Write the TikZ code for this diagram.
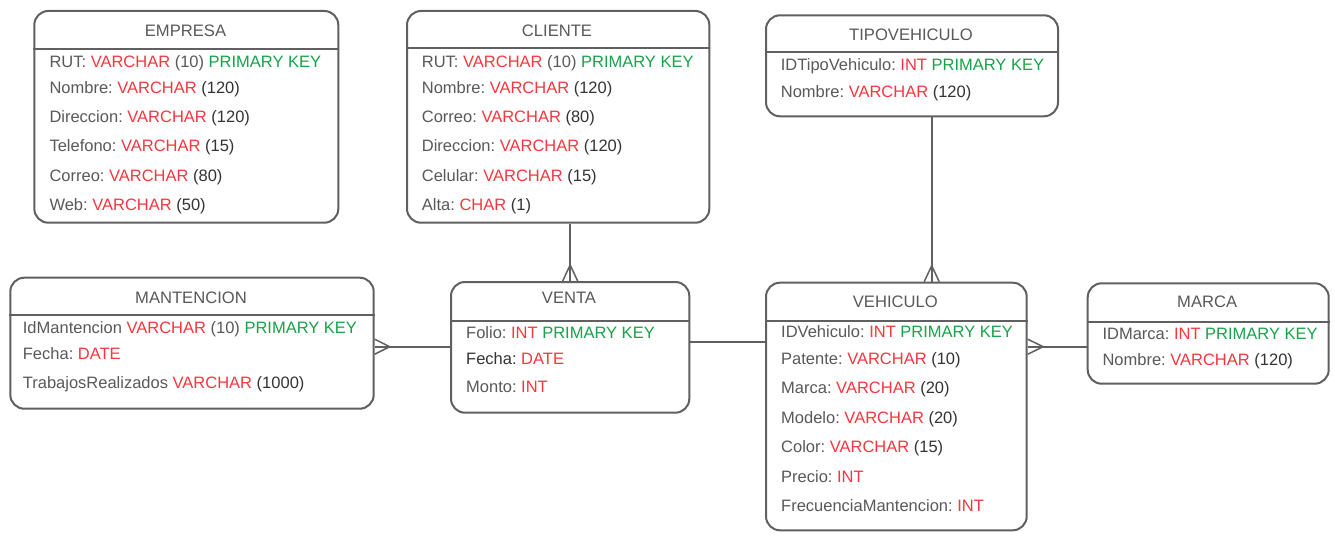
\documentclass[tikz,border=0pt]{standalone}
\usepackage{fontspec}
\setmainfont{Liberation Sans}
\usetikzlibrary{calc}
\frenchspacing
\definecolor{txtgray}{HTML}{595959}
\definecolor{txtdark}{HTML}{333333}
\definecolor{typred}{HTML}{F7363F}
\definecolor{pkgreen}{HTML}{17A349}
\definecolor{linegray}{HTML}{606060}
\newcommand\tyR[1]{\textcolor{typred}{#1}}
\newcommand\pkG[1]{\textcolor{pkgreen}{#1}}
\newcommand\szD[1]{\textcolor{txtdark}{#1}}
\tikzset{
  entity/.style={draw=linegray, line width=2pt, rounded corners=14pt, rectangle, inner sep=0pt, anchor=north west, fill=white},
  hdr/.style={draw=linegray, line width=2pt},
  title/.style={anchor=base, inner sep=0pt, text=txtgray, font=\fontsize{16.6}{19}\selectfont\frenchspacing},
  row/.style={anchor=base west, inner sep=0pt, text=txtgray, font=\fontsize{16.5}{19}\selectfont\frenchspacing},
  conn/.style={draw=linegray, line width=2pt},
  crow/.style={draw=linegray, line width=1.5pt}
}
\begin{document}
\begin{tikzpicture}[x=1pt,y=-1pt]
\useasboundingbox (0,0) rectangle (1335,548);
\fill[white] (0,0) rectangle (1335,548);

% boxes as nodes
\node[entity, minimum width=304, minimum height=211.7] (empresa) at (33.3,10) {};
\node[entity, minimum width=302.3, minimum height=211.7] (cliente) at (406,10) {};
\node[entity, minimum width=292, minimum height=101] (tipo) at (765,14.3) {};
\node[entity, minimum width=363.4, minimum height=131] (mant) at (9.3,276.7) {};
\node[entity, minimum width=238.3, minimum height=130.7] (venta) at (450,281) {};
\node[entity, minimum width=260.7, minimum height=247.6] (vehiculo) at (765,281.7) {};
\node[entity, minimum width=241, minimum height=100.4] (marca) at (1086.7,282.3) {};

% header separators
\draw[hdr] (empresa.west |- 0,49) -- (empresa.east |- 0,49);
\draw[hdr] (cliente.west |- 0,48.5) -- (cliente.east |- 0,48.5);
\draw[hdr] (tipo.west |- 0,52.5) -- (tipo.east |- 0,52.5);
\draw[hdr] (mant.west |- 0,315) -- (mant.east |- 0,315);
\draw[hdr] (venta.west |- 0,320.5) -- (venta.east |- 0,320.5);
\draw[hdr] (vehiculo.west |- 0,320.5) -- (vehiculo.east |- 0,320.5);
\draw[hdr] (marca.west |- 0,321.5) -- (marca.east |- 0,321.5);

% CLIENTE -- VENTA (many at VENTA)
\draw[conn] (venta.north |- cliente.south) -- (venta.north);
\coordinate (cfv) at ($(venta.north)+(0,-16)$);
\draw[crow] ($(venta.north)+(-7.5,0)$) -- (cfv) -- ($(venta.north)+(7.5,0)$);

% VENTA -- MANTENCION (many at MANTENCION)
\draw[conn] (venta.west |- 0,346.7) -- (mant.east |- 0,346.7);
\coordinate (cfm) at ($(mant.east |- 0,346.7)+(15,0)$);
\draw[crow] ($(mant.east |- 0,346.7)+(0,-7.5)$) -- (cfm) -- ($(mant.east |- 0,346.7)+(0,7.5)$);

% VENTA -- VEHICULO
\draw[conn] (venta.east |- 0,342.3) -- (vehiculo.west |- 0,342.3);

% TIPOVEHICULO -- VEHICULO (many at VEHICULO)
\coordinate (tv) at (931.7,0);
\draw[conn] (tipo.south -| tv) -- (vehiculo.north -| tv);
\coordinate (cft) at ($(vehiculo.north -| tv)+(0,-16)$);
\draw[crow] ($(vehiculo.north -| tv)+(-7.5,0)$) -- (cft) -- ($(vehiculo.north -| tv)+(7.5,0)$);

% MARCA -- VEHICULO (many at VEHICULO)
\draw[conn] (marca.west |- 0,346.7) -- (vehiculo.east |- 0,346.7);
\coordinate (cfk) at ($(vehiculo.east |- 0,346.7)+(15.5,0)$);
\draw[crow] ($(vehiculo.east |- 0,346.7)+(0,-7.5)$) -- (cfk) -- ($(vehiculo.east |- 0,346.7)+(0,7.5)$);

% ---------------- EMPRESA ----------------
\node[title] (empresaT) at (185.5,36.5) {EMPRESA};
\node[row] (e1) at (49.3,67.3) {RUT: \tyR{VARCHAR} (10) \pkG{PRIMARY KEY}};
\node[row] (e2) at (49.3,93.3) {Nombre: \tyR{VARCHAR} \szD{(120)}};
\node[row] (e3) at (49.3,122.3) {Direccion: \tyR{VARCHAR} \szD{(120)}};
\node[row] (e4) at (49.3,151.8) {Telefono: \tyR{VARCHAR} \szD{(15)}};
\node[row] (e5) at (49.3,181.3) {Correo: \tyR{VARCHAR} \szD{(80)}};
\node[row] (e6) at (49.3,210.8) {Web: \tyR{VARCHAR} \szD{(50)}};

% ---------------- CLIENTE ----------------
\node[title] (clienteT) at (557,36.5) {CLIENTE};
\node[row] (c1) at (421.7,67.3) {RUT: \tyR{VARCHAR} (10) \pkG{PRIMARY KEY}};
\node[row] (c2) at (421.7,93.3) {Nombre: \tyR{VARCHAR} \szD{(120)}};
\node[row] (c3) at (421.7,122.3) {Correo: \tyR{VARCHAR} \szD{(80)}};
\node[row] (c4) at (421.7,151.8) {Direccion: \tyR{VARCHAR} \szD{(120)}};
\node[row] (c5) at (421.7,181.3) {Celular: \tyR{VARCHAR} \szD{(15)}};
\node[row] (c6) at (421.7,210.8) {Alta: \tyR{CHAR} \szD{(1)}};

% ---------------- TIPOVEHICULO ----------------
\node[title] (tipoT) at (911,40.5) {TIPOVEHICULO};
\node[row] (t1) at (780.7,70.8) {IDTipoVehiculo: \tyR{INT} \pkG{PRIMARY KEY}};
\node[row] (t2) at (780.7,97.3) {Nombre: \tyR{VARCHAR} \szD{(120)}};

% ---------------- MANTENCION ----------------
\node[title] (mantT) at (191,303.2) {MANTENCION};
\node[row] (m1) at (22.7,333.8) {IdMantencion \tyR{VARCHAR} (10) \pkG{PRIMARY KEY}};
\node[row] (m2) at (22.7,359.8) {Fecha: \tyR{DATE}};
\node[row] (m3) at (22.7,388.8) {TrabajosRealizados \tyR{VARCHAR} \szD{(1000)}};

% ---------------- VENTA ----------------
\node[title] (ventaT) at (569,303.2) {VENTA};
\node[row] (v1) at (466,338.8) {Folio: \tyR{INT} \pkG{PRIMARY KEY}};
\node[row] (v2) at (466,364.8) {\textcolor{txtdark}{Fecha:} \tyR{DATE}};
\node[row] (v3) at (466,392.8) {Monto: \tyR{INT}};

% ---------------- VEHICULO ----------------
\node[title] (vehT) at (895.3,307.5) {VEHICULO};
\node[row] (h1) at (781,337.3) {IDVehiculo: \tyR{INT} \pkG{PRIMARY KEY}};
\node[row] (h2) at (781,364.8) {Patente: \tyR{VARCHAR} \szD{(10)}};
\node[row] (h3) at (781,393.8) {Marca: \tyR{VARCHAR} \szD{(20)}};
\node[row] (h4) at (781,423.3) {Modelo: \tyR{VARCHAR} \szD{(20)}};
\node[row] (h5) at (781,452.8) {Color: \tyR{VARCHAR} \szD{(15)}};
\node[row] (h6) at (781,482.3) {Precio: \tyR{INT}};
\node[row] (h7) at (781,511.8) {FrecuenciaMantencion: \tyR{INT}};

% ---------------- MARCA ----------------
\node[title] (marcaT) at (1207.2,307.5) {MARCA};
\node[row] (k1) at (1102.3,339.8) {IDMarca: \tyR{INT} \pkG{PRIMARY KEY}};
\node[row] (k2) at (1102.3,365.8) {Nombre: \tyR{VARCHAR} \szD{(120)}};
\end{tikzpicture}
\end{document}
